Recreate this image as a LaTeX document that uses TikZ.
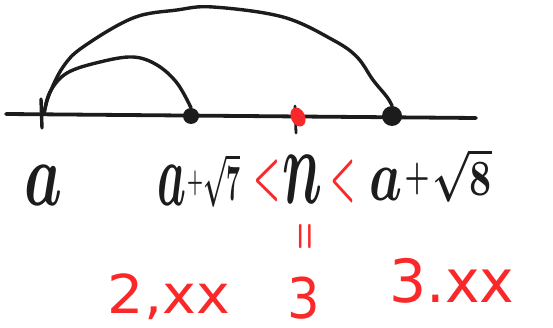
\documentclass[tikz,border=0pt]{standalone}
\usetikzlibrary{shapes.geometric}
\usepackage{graphicx}
\usepackage{fontspec}
\newfontfamily\hand{DejaVu Sans}
\definecolor{pen}{RGB}{28,28,28}
\definecolor{redpen}{RGB}{250,40,40}
\newcommand{\fitbox}[3]{\resizebox*{#1}{#2}{#3}}
\begin{document}
\begin{tikzpicture}[x=1pt,y=-1pt,line cap=round,line join=round,
  stroke/.style={line width=3.8pt,draw=pen},
  arcline/.style={line width=3.4pt,draw=pen},
  dot/.style={circle,fill=pen,inner sep=0pt},
  lbl/.style={inner sep=0pt,text=pen,font=\boldmath},
  rlbl/.style={inner sep=0pt,text=redpen,font=\boldmath}]
\useasboundingbox (0,0) rectangle (553,328);
% number line
\coordinate (L) at (6,114);
\coordinate (R) at (476,118);
\draw[stroke] (L) -- (R);
% tick at a
\coordinate (A) at (44,114);
\coordinate (At) at (41,99);
\coordinate (Ab) at (42,128);
\draw[arcline] (At) -- (Ab);
% tick under red dot
\coordinate (Nt) at (295,106);
\coordinate (Nb) at (296,133);
\draw[line width=2.8pt,draw=pen] (Nt) -- (Nb);
% points
\node[dot,minimum size=16pt] (P7) at (191,116) {};
\node[dot,minimum size=20pt] (P8) at (392,116) {};
\node[ellipse,fill=redpen,inner sep=0pt,minimum width=14pt,minimum height=20pt,rotate=25] (N) at (298,117) {};
% arcs
\draw[arcline] plot[smooth,tension=0.6] coordinates {(A) (50,92) (67,73) (100,62) (133,57) (157,65) (177,83) (P7.north)};
\draw[arcline] plot[smooth,tension=0.6] coordinates {(A) (49,95) (63,67) (83,47) (133,18) (177,10) (213,7) (283,17) (333,40) (357,57) (373,80) (387,97) (P8.north)};
% labels
\node[lbl] (la) at (44,185) {\fitbox{38pt}{40pt}{$a$}};
\node[lbl] (l7a) at (172,185) {\fitbox{29pt}{40pt}{$a$}};
\node[lbl] (l7p) at (195,183) {\fitbox{16pt}{25pt}{$+$}};
\node[lbl] (l7s) at (221.5,180) {\fitbox{37pt}{54pt}{$\sqrt{7}$}};
\node[rlbl] (lt1) at (267,181) {\fitbox{27pt}{42pt}{$<$}};
\node[lbl] (ln) at (302,179) {\fitbox{40pt}{48pt}{$n$}};
\node[rlbl] (lt2) at (343,181) {\fitbox{25pt}{43pt}{$<$}};
\node[lbl] (l8a) at (386,184) {\fitbox{33pt}{32pt}{$a$}};
\node[lbl] (l8p) at (417,179) {\fitbox{25pt}{32pt}{$+$}};
\node[lbl] (l8s) at (462,175) {\fitbox{59pt}{54pt}{$\sqrt{8}$}};
\node[rlbl] (leq) at (307,236) {\fitbox{16pt}{28pt}{\rotatebox{90}{$=$}}};
\node[rlbl] (v1) at (169,297) {\fitbox{122pt}{46pt}{\hand 2,xx}};
\node[rlbl,font=\hand\fontsize{40}{40}\selectfont,xscale=1.28,yscale=1.4] (v2) at (304,298) {3};
\node[rlbl] (v3) at (452,281) {\fitbox{125pt}{45pt}{\hand 3.xx}};
\end{tikzpicture}
\end{document}
